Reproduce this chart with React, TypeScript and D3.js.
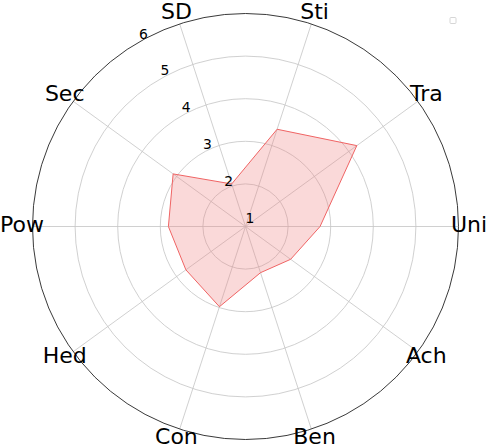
import React from "react";
import * as d3 from "d3";

const categories = ["SD", "Sti", "Tra", "Uni", "Ach", "Ben", "Con", "Hed", "Pow", "Sec"];
const values = [2.05, 3.4, 4.23, 2.75, 2.31, 2.14, 2.98, 2.73, 2.81, 3.1];
const rTicks = [1, 2, 3, 4, 5, 6];

const W = 488;
const H = 446;
const cx = 245.5;
const cy = 226.5;
const R = 213;

export default function App() {
  const r = d3.scaleLinear().domain([1, 6]).range([0, R]);
  const n = categories.length;
  // angle (math, radians, counterclockwise from east)
  const ang = d3
    .scaleLinear()
    .domain([0, n])
    .range([(108 * Math.PI) / 180, (108 * Math.PI) / 180 - 2 * Math.PI]);
  const px = (i: number, v: number) => cx + r(v) * Math.cos(ang(i));
  const py = (i: number, v: number) => cy - r(v) * Math.sin(ang(i));

  const line = d3
    .line<number>()
    .x((v, i) => px(i, v))
    .y((v, i) => py(i, v))
    .curve(d3.curveLinearClosed);

  const labelAng = (120 * Math.PI) / 180;
  const font = "'DejaVu Sans', sans-serif";

  return (
    <svg
      width={W}
      height={H}
      style={{ position: "absolute", left: 0, top: 0, background: "#fff" }}
    >
      {rTicks.slice(1, -1).map((t) => (
        <circle key={t} cx={cx} cy={cy} r={r(t)} fill="none" stroke="#c4c4c4" strokeWidth={0.8} />
      ))}
      {categories.map((c, i) => (
        <line
          key={c}
          x1={cx}
          y1={cy}
          x2={px(i, 6)}
          y2={py(i, 6)}
          stroke="#c4c4c4"
          strokeWidth={0.8}
        />
      ))}
      <circle cx={cx} cy={cy} r={R} fill="none" stroke="#222" strokeWidth={0.9} />
      <path
        d={line(values) || ""}
        fill="rgb(240,128,128)"
        fillOpacity={0.3}
        stroke="rgb(240,100,100)"
        strokeWidth={1}
      />
      {rTicks.map((t) => (
        <text
          key={t}
          x={cx + 4.5 + r(t) * Math.cos(labelAng)}
          y={cy - 8.5 - r(t) * Math.sin(labelAng) + 5}
          fontFamily={font}
          fontSize={13.9}
          textAnchor="middle"
          fill="#000"
        >
          {t}
        </text>
      ))}
      {categories.map((c, i) => (
        <text
          key={c}
          x={cx + 223.5 * Math.cos(ang(i))}
          y={cy - 223.5 * Math.sin(ang(i)) + 5.4}
          fontFamily={font}
          fontSize={22}
          textAnchor="middle"
          fill="#000"
        >
          {c}
        </text>
      ))}
      <rect x={450} y={17.5} width={6} height={6} rx={1} fill="#fff" stroke="#cccccc" strokeWidth={0.8} />
    </svg>
  );
}
